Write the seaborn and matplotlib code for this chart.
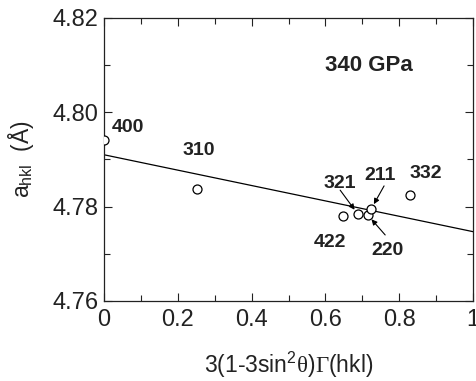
import matplotlib
matplotlib.use("Agg")
import matplotlib.pyplot as plt
import seaborn as sns
import pandas as pd
from matplotlib.ticker import MultipleLocator, FixedLocator

# ---- data ----
hkl = ["400", "310", "422", "321", "220", "211", "332"]
x_vals = [0.0, 0.253, 0.647, 0.688, 0.715, 0.724, 0.829]
a_vals = [4.7941, 4.7837, 4.7780, 4.7784, 4.7782, 4.7795, 4.7825]
fit_x = [0.0, 1.0]
fit_y = [4.7910, 4.7747]

label_x = [0.065, 0.257, 0.612, 0.640, 0.767, 0.748, 0.873]
label_y = [4.7967, 4.7918, 4.7725, 4.7850, 4.7708, 4.7865, 4.7871]
arrow_labels = ["321", "211", "220"]
arrow_tail_x = [0.640, 0.759, 0.762]
arrow_tail_y = [4.7835, 4.7844, 4.7740]

x_ticks = [0, 0.2, 0.4, 0.6, 0.8, 1.0]
x_ticklabels = ["0", "0.2", "0.4", "0.6", "0.8", "1"]
y_ticks = [4.76, 4.78, 4.80, 4.82]
y_ticklabels = ["4.76", "4.78", "4.80", "4.82"]
pressure_label = "340 GPa"

df = pd.DataFrame({"x": x_vals, "a": a_vals, "hkl": hkl})
fit = pd.DataFrame({"x": fit_x, "a": fit_y})

sns.set_theme(style="ticks")
plt.rcParams["font.family"] = ["Liberation Sans", "DejaVu Sans"]
plt.rcParams["mathtext.fontset"] = "custom"
plt.rcParams["mathtext.rm"] = "Liberation Serif"
plt.rcParams["mathtext.it"] = "Liberation Sans:italic"
plt.rcParams["mathtext.sf"] = "Liberation Sans"
plt.rcParams["mathtext.bf"] = "Liberation Sans:bold"

fig = plt.figure(figsize=(4.76, 3.81), dpi=100)
ax = fig.add_axes([0.2185, 0.21, 0.7752, 0.7428])

sns.lineplot(data=fit, x="x", y="a", ax=ax, color="black", lw=0.9)
sns.scatterplot(data=df, x="x", y="a", ax=ax, s=42, facecolor="white",
                edgecolor="black", linewidth=0.9, zorder=3)

ax.set_xlim(0, 1)
ax.set_ylim(4.76, 4.82)
ax.xaxis.set_major_locator(FixedLocator(x_ticks))
ax.set_xticklabels(x_ticklabels)
ax.yaxis.set_major_locator(FixedLocator(y_ticks))
ax.set_yticklabels(y_ticklabels)
ax.xaxis.set_minor_locator(MultipleLocator(0.1))
ax.yaxis.set_minor_locator(MultipleLocator(0.01))
ax.tick_params(which="both", direction="in", top=True, right=True,
               width=0.8, colors="#222222", labelsize=17)
ax.tick_params(axis="x", which="both", pad=6)
ax.tick_params(axis="y", which="both", pad=4)
ax.tick_params(which="major", length=6)
ax.tick_params(which="minor", length=4)
for s in ax.spines.values():
    s.set_linewidth(0.9)
    s.set_color("#222222")

ax.set_xlabel(r"3(1-3sin$^{\mathsf{2}}\mathrm{\theta}$)$\mathrm{\Gamma}$(hkl)",
              fontsize=16.5, color="#222222", labelpad=13)
ax.set_ylabel(r"a$_{\mathsf{hkl}}$  (Å)", fontsize=16.5,
              color="#222222", labelpad=12)

for lab, lx, ly in zip(hkl, label_x, label_y):
    ax.text(lx, ly, lab, fontsize=14, fontweight="bold", ha="center",
            va="center", color="#222222")

for lab, tx, ty in zip(arrow_labels, arrow_tail_x, arrow_tail_y):
    i = hkl.index(lab)
    ax.annotate("", xy=(x_vals[i], a_vals[i]), xytext=(tx, ty),
                arrowprops=dict(arrowstyle="-|>", lw=0.8, color="black",
                                mutation_scale=8, shrinkA=0, shrinkB=4))

ax.text(0.718, 4.8100, pressure_label, fontsize=16, fontweight="bold",
        ha="center", va="center", color="#222222")

fig.savefig("out.png", dpi=100)
